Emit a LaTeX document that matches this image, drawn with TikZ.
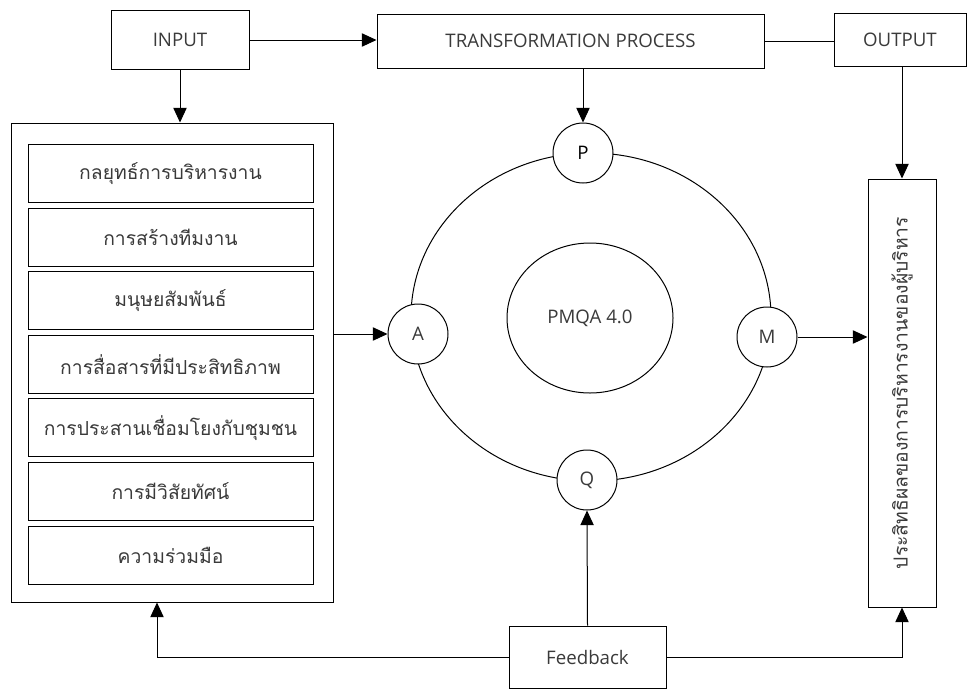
\documentclass[tikz,border=0pt]{standalone}
\usepackage{fontspec}
\setmainfont{Open Sans}
\newfontfamily\thaifont[Script=Thai]{Loma}
\usetikzlibrary{arrows.meta,shapes.geometric}
\definecolor{figink}{HTML}{000000}
\definecolor{figtext}{HTML}{3A3A3A}
\newcommand{\thaisize}{\fontsize{14.5pt}{17pt}\selectfont\thaifont}

\begin{document}
\begin{tikzpicture}[
  x=0.75pt,
  y=-0.75pt,
  every node/.style={font=\fontsize{14pt}{17pt}\selectfont, text=figtext},
  box/.style={draw=figink, line width=0.75pt, fill=white, inner sep=0pt},
  ring/.style={draw=figink, line width=0.75pt, fill=white, circle,
               minimum size=45pt, inner sep=0pt},
  link/.style={figink, line width=0.75pt},
  arrow/.style={link, -{Triangle[length=11pt, width=10pt]}}
]
  % ---- page frame, pixel units with y pointing down ----
  \useasboundingbox (0,0) rectangle (967,689);

  % ---- top row ----
  \node[box, minimum width=103.5pt, minimum height=44.25pt] (input) at (180,40) {INPUT};
  \node[box, minimum width=290.25pt, minimum height=40.5pt] (trans) at (570.5,41)
    {TRANSFORMATION PROCESS};
  \node[box, minimum width=99pt, minimum height=39.75pt] (output) at (900,39.5) {OUTPUT};

  % ---- input factors ----
  \node[box, minimum width=241.5pt, minimum height=359.25pt] (factors) at (172,362.5) {};
  \foreach \txt [count=\i from 0] in {กลยุทธ์การบริหารงาน, การสร้างทีมงาน, มนุษยสัมพันธ์,
      การสื่อสารที่มีประสิทธิภาพ, การประสานเชื่อมโยงกับชุมชน, การมีวิสัยทัศน์, ความร่วมมือ}
    \node[box, minimum width=213.75pt, minimum height=43.5pt, font=\thaisize]
      (item\i) at (170.5,{173.5+63.6*\i}) {\txt};

  % ---- PMQA cycle ----
  \draw[link] (591,317) ellipse [x radius=180, y radius=164];
  \node[box, ellipse, minimum width=124.5pt, minimum height=112.5pt] (pmqa) at (590,318)
    {PMQA 4.0};
  \node[ring, text=figink] (P) at (583,153) {P};
  \node[ring] (A) at (418,334) {A};
  \node[ring] (M) at (767,337) {M};
  \node[ring] (Q) at (587,480) {Q};

  % ---- result and feedback ----
  \node[box, minimum width=51pt, minimum height=321pt] (result) at (902,393) {};
  \node[rotate=90, font=\thaisize] (resulttext) at (result)
    {ประสิทธิผลของการบริหารงานของผู้บริหาร};
  \node[box, minimum width=117.75pt, minimum height=46.5pt] (fb) at (587.5,657) {Feedback};

  % ---- connectors ----
  \draw[arrow] (input.east) -- (input.east -| trans.west);
  \draw[link] (trans.east) -- (trans.east -| output.west);
  \draw[arrow] (input.south) -- (input.south |- factors.north);
  \draw[arrow] (P |- trans.south) -- (P.north);
  \draw[arrow] (factors.east |- A) -- (A.west);
  \draw[arrow] (M.east) -- (result.west |- M);
  \draw[arrow] (result.north |- output.south) -- (result.north);
  \draw[arrow] (fb.north) -- (Q.south);
  \draw[arrow] (fb.west) -| ([xshift=-11.25pt]factors.south);
  \draw[arrow] (fb.east) -| (result.south);
\end{tikzpicture}
\end{document}
